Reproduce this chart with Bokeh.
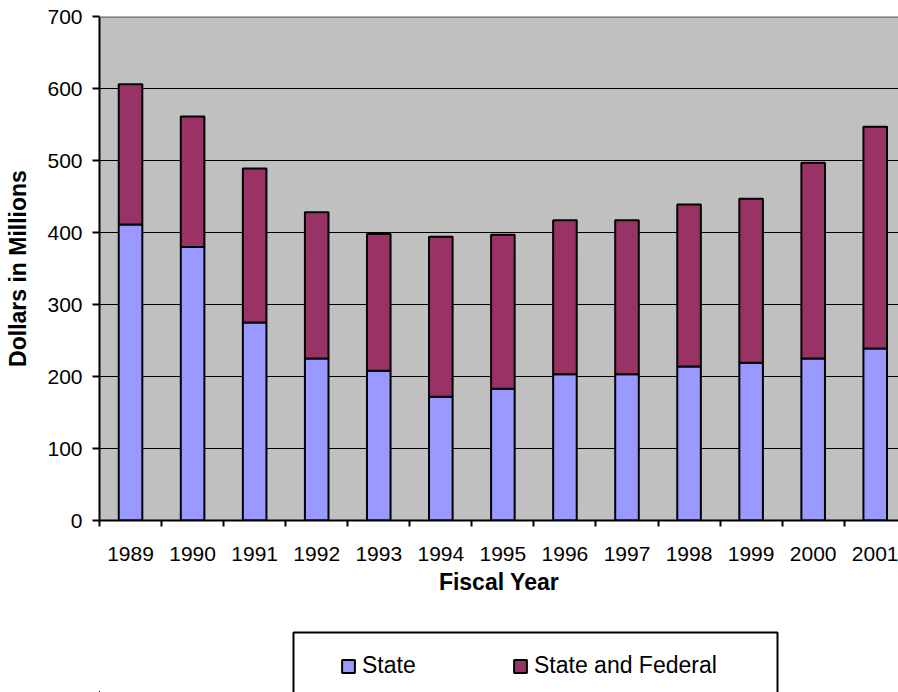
from bokeh.plotting import figure
from bokeh.layouts import column
from bokeh.models import (ColumnDataSource, Range1d, FixedTicker, Legend,
                          LegendItem, BoxAnnotation, Span)
from bokeh.embed import file_html
from bokeh.resources import INLINE

years = ["1989", "1990", "1991", "1992", "1993", "1994", "1995",
         "1996", "1997", "1998", "1999", "2000", "2001"]
state = [411, 380, 275, 225, 208, 172, 183, 203, 203, 214, 219, 225, 239]
state_federal = [195, 181, 214, 203, 190, 222, 214, 214, 214, 225, 228, 272, 308]
y_ticks = [0, 100, 200, 300, 400, 500, 600, 700]
series_names = ["State", "State and Federal"]
series_colors = ["#9999FF", "#993366"]

xpos = [i + 0.5 for i in range(len(years))]
src = ColumnDataSource(dict(x=xpos, state=state, state_federal=state_federal))

FONT = "Liberation Sans"

p = figure(width=898, height=620, x_range=Range1d(0, 12.875), y_range=Range1d(0, 700),
           output_backend="svg", toolbar_location=None,
           min_border_left=99, min_border_right=0, min_border_top=16,
           min_border_bottom=100)
p.background_fill_color = "#C0C0C0"
p.border_fill_color = "white"
p.outline_line_color = None

p.vbar_stack(["state", "state_federal"], x="x", width=0.38, source=src,
             fill_color=series_colors, line_color="black", line_width=2)

p.add_layout(Span(location=700, dimension="width", line_color="#808080", line_width=3))

# grid
p.xgrid.visible = False
p.ygrid.ticker = FixedTicker(ticks=y_ticks)
p.ygrid.grid_line_color = "black"
p.ygrid.grid_line_width = 1

# y axis
ya = p.yaxis[0]
ya.ticker = FixedTicker(ticks=y_ticks)
ya.axis_line_color = "black"
ya.axis_line_width = 2
ya.major_tick_line_color = "black"
ya.major_tick_line_width = 2
ya.major_tick_out = 7
ya.major_tick_in = 0
ya.minor_tick_line_color = None
ya.major_label_text_font = FONT
ya.major_label_text_font_size = "21px"
ya.major_label_text_color = "black"
ya.major_label_standoff = 10
ya.axis_label = "Dollars in Millions"
ya.axis_label_text_font = FONT
ya.axis_label_text_font_size = "23px"
ya.axis_label_text_font_style = "bold"
ya.axis_label_text_color = "black"
ya.axis_label_standoff = 13

# x axis
xa = p.xaxis[0]
xa.ticker = FixedTicker(ticks=xpos, minor_ticks=list(range(len(years) + 1)))
xa.major_label_overrides = {x: y for x, y in zip(xpos, years)}
xa.axis_line_color = "black"
xa.axis_line_width = 2
xa.major_tick_out = 0
xa.major_tick_in = 0
xa.major_tick_line_color = None
xa.minor_tick_line_color = "black"
xa.minor_tick_line_width = 2
xa.minor_tick_out = 6
xa.minor_tick_in = 0
xa.major_label_text_font = FONT
xa.major_label_text_font_size = "21px"
xa.major_label_text_color = "black"
xa.major_label_standoff = 20
xa.axis_label = "Fiscal Year"
xa.axis_label_text_font = FONT
xa.axis_label_text_font_size = "23px"
xa.axis_label_text_font_style = "bold"
xa.axis_label_text_color = "black"
xa.axis_label_standoff = 5

# legend strip: its frame is aligned with the main frame; coordinates are page
# pixels plus an offset so the data drawn for the swatches stays out of view
X0, Y0 = 1000, 1000
p2 = figure(width=898, height=72, x_range=Range1d(X0 + 99, X0 + 898),
            y_range=Range1d(Y0, Y0 + 72),
            output_backend="svg", toolbar_location=None,
            x_axis_location=None, y_axis_location=None,
            min_border_left=99, min_border_right=0, min_border_top=0,
            min_border_bottom=0)
p2.grid.visible = False
p2.outline_line_color = None
p2.background_fill_color = "white"
p2.border_fill_color = "white"

legend_renderers = p2.vbar_stack(["state", "state_federal"], x="x", width=0.38,
                                 source=src, fill_color=series_colors,
                                 line_color="black", line_width=2)

p2.add_layout(BoxAnnotation(left=X0 + 293, right=X0 + 777, top=Y0 + 60, bottom=Y0 - 10,
                            fill_alpha=0, line_color="black", line_alpha=1,
                            line_width=2))

legend = Legend(items=[LegendItem(label=n, renderers=[r], index=0)
                       for n, r in zip(series_names, legend_renderers)],
                orientation="horizontal", location=(241, 13),
                padding=0, margin=0, spacing=0,
                glyph_width=16, glyph_height=16, label_standoff=6,
                label_width=150, label_height=26,
                label_text_font=FONT, label_text_font_size="23px",
                label_text_color="black",
                border_line_alpha=0, background_fill_alpha=0)
p2.add_layout(legend, "center")

layout = column(p, p2, spacing=0)
open("out.html", "w").write(file_html(layout, INLINE))
